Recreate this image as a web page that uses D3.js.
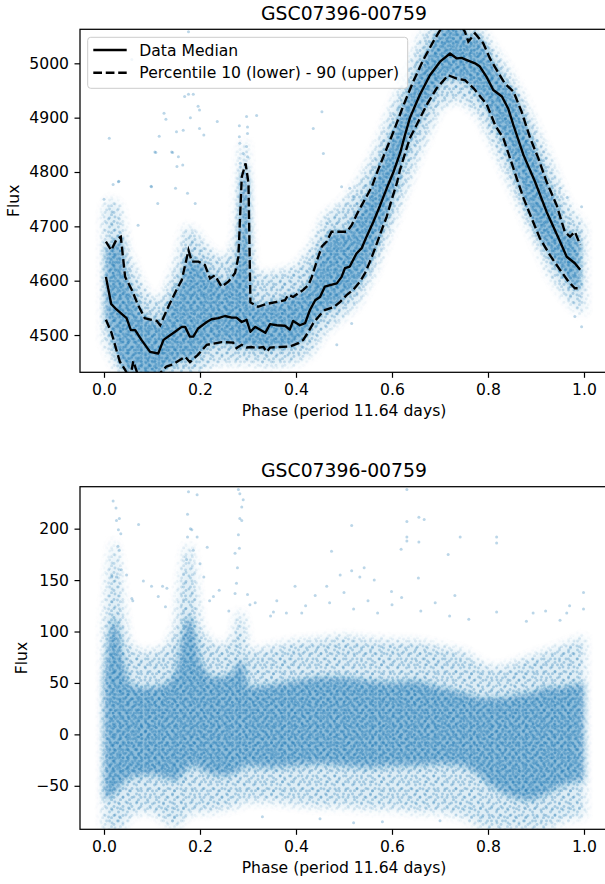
<!DOCTYPE html>
<html><head><meta charset="utf-8">
<script src="https://cdn.jsdelivr.net/npm/d3@7"></script>
<style>
html,body{margin:0;padding:0;background:#fff;}
text{font-family:"DejaVu Sans",sans-serif;fill:#000;}
</style></head>
<body><svg id="chart" width="605" height="884"></svg>
<script>
// ---------------- DATA ----------------
const chartTitle = "GSC07396-00759";
const xLabel = "Phase (period 11.64 days)";
const yLabel = "Flux";
const xTicks = [0, 0.2, 0.4, 0.6, 0.8, 1.0];
const topYTicks = [4500, 4600, 4700, 4800, 4900, 5000];
const botYTicks = [-50, 0, 50, 100, 150, 200];
const legendLabels = ["Data Median", "Percentile 10 (lower) - 90 (upper)"];

// median line
const medPhase = [0.004,0.015,0.026,0.047,0.056,0.065,0.078,0.096,0.113,0.124,0.148,0.162,0.169,0.179,0.186,0.196,0.214,0.224,0.238,0.252,0.266,0.276,0.287,0.297,0.305,0.315,0.321,0.336,0.346,0.36,0.377,0.387,0.394,0.408,0.419,0.429,0.44,0.45,0.46,0.471,0.485,0.495,0.502,0.512,0.526,0.537,0.547,0.561,0.575,0.589,0.603,0.617,0.627,0.6375,0.658,0.679,0.70,0.721,0.735,0.745,0.756,0.773,0.783,0.797,0.811,0.829,0.842,0.853,0.874,0.898,0.922,0.947,0.964,0.981,0.992];
const medFlux = [4607,4557,4547,4531,4509,4509,4491,4469,4466,4491,4506,4515,4515,4497,4497,4512,4524,4529,4531,4535,4532,4532,4524,4528,4506,4515,4512,4504,4520,4518,4517,4510,4526,4518,4522,4546,4564,4570,4589,4592,4595,4607,4623,4626,4650,4660,4681,4708,4738,4770,4800,4835,4868,4900,4942,4978,5003,5018,5009,5010,5006,5000,4994,4975,4951,4939,4917,4886,4831,4782,4727,4678,4644,4632,4620];

// 90th percentile (upper dashed)
const hiPhase = [0.004,0.015,0.026,0.035,0.044,0.058,0.071,0.085,0.099,0.11,0.117,0.134,0.151,0.162,0.176,0.183,0.197,0.21,0.221,0.231,0.245,0.259,0.273,0.28,0.287,0.295,0.301,0.305,0.321,0.338,0.36,0.377,0.384,0.394,0.405,0.415,0.426,0.433,0.444,0.454,0.464,0.474,0.488,0.506,0.516,0.526,0.537,0.547,0.558,0.571,0.582,0.603,0.624,0.644,0.665,0.686,0.703,0.72,0.74,0.752,0.759,0.773,0.79,0.804,0.818,0.835,0.853,0.87,0.888,0.905,0.922,0.943,0.96,0.971,0.981,0.992];
const hiFlux = [4672,4656,4676,4681,4607,4583,4555,4531,4528,4526,4518,4552,4583,4601,4656,4635,4635,4629,4604,4610,4589,4598,4614,4644,4791,4816,4779,4560,4552,4557,4561,4564,4574,4570,4577,4583,4592,4607,4638,4663,4672,4690,4690,4690,4702,4721,4739,4755,4773,4804,4828,4874,4923,4966,5006,5040,5065,5080,5075,5058,5040,5055,5037,5009,4988,4963,4948,4911,4862,4825,4782,4739,4690,4681,4690,4666];

// 10th percentile (lower dashed)
const loPhase = [0.004,0.016,0.026,0.033,0.044,0.054,0.061,0.075,0.10,0.117,0.13,0.144,0.158,0.169,0.179,0.195,0.214,0.245,0.269,0.276,0.287,0.297,0.307,0.318,0.332,0.339,0.346,0.367,0.3875,0.405,0.415,0.426,0.436,0.45,0.46,0.478,0.492,0.506,0.519,0.533,0.544,0.554,0.565,0.578,0.589,0.599,0.61,0.617,0.637,0.651,0.672,0.693,0.717,0.735,0.752,0.77,0.783,0.797,0.815,0.832,0.846,0.86,0.874,0.888,0.908,0.929,0.95,0.968,0.981,0.992];
const loFlux = [4528,4503,4472,4451,4436,4418,4452,4415,4410,4430,4442,4446,4454,4460,4450,4463,4482,4487,4486,4476,4482,4477,4478,4476,4478,4469,4477,4478,4479,4485,4491,4506,4522,4537,4546,4551,4561,4574,4583,4598,4614,4635,4660,4692,4718,4748,4779,4805,4862,4886,4923,4954,4978,4972,4969,4954,4940,4925,4886,4862,4825,4788,4752,4721,4678,4647,4620,4598,4586,4586];

// visible extent of the point cloud (top panel)
const cloudPhase = [0,0.01,0.03,0.05,0.08,0.1,0.12,0.15,0.17,0.19,0.21,0.24,0.26,0.275,0.285,0.295,0.302,0.31,0.33,0.36,0.4,0.43,0.46,0.5,0.53,0.56,0.6,0.63,0.66,0.7,0.74,0.78,0.81,0.84,0.87,0.9,0.93,0.96,0.98,1.0];
const cloudHi = [4725,4750,4740,4650,4590,4565,4565,4630,4700,4690,4665,4640,4645,4680,4840,4860,4720,4620,4610,4615,4625,4660,4720,4745,4780,4830,4920,4985,5050,5080,5080,5070,5030,4990,4940,4880,4820,4750,4720,4700];
const cloudLo = [4490,4470,4430,4415,4410,4410,4415,4420,4420,4425,4440,4450,4450,4448,4450,4450,4450,4450,4445,4445,4450,4465,4505,4535,4560,4610,4700,4770,4840,4920,4935,4905,4850,4790,4730,4670,4610,4570,4550,4540];

// isolated points (top panel)
const topOutPhase = [0.176,0.058,0.168,0.176,0.186,0.196,0.199,0.18,0.125,0.129,0.236,0.297,0.318,0.011,0.115,0.151,0.165,0.199,0.208,0.108,0.143,0.155,0.164,0.152,0.099,0.019,0.031,0.149,0.174,0.0,0.282,0.299,0.282,0.299,0.283,0.297,0.29,0.299,0.284,0.294,0.288,0.298,0.284,0.293,0.29,0.106,0.141,0.098,0.112,0.03,0.071,0.19,0.454,0.436,0.457,0.495,0.519,0.512,0.485,0.516,0.995,0.981,0.95,0.965,0.995];
const topOutFlux = [5058,5007,4939,4943,4943,4921,4914,4900,4908,4897,4893,4902,4904,4862,4866,4874,4877,4880,4868,4836,4836,4828,4813,4810,4773,4777,4783,4770,4761,4750,4885,4883,4865,4871,4853,4847,4834,4828,4816,4810,4798,4791,4779,4767,4755,4837,4837,4774,4742,4782,4702,4742,4911,4880,4834,4773,4755,4770,4482,4521,4515,4534,4770,4753,4736];

// residual panel: cloud envelopes
const resPhase = [0.0,0.01,0.02,0.03,0.04,0.05,0.07,0.1,0.13,0.15,0.16,0.17,0.18,0.19,0.2,0.22,0.25,0.27,0.28,0.29,0.3,0.35,0.4,0.45,0.5,0.55,0.6,0.65,0.7,0.75,0.78,0.8,0.83,0.86,0.89,0.92,0.95,0.98,1.0];
const resInnerLo = [-62,-62,-58,-52,-46,-42,-40,-38,-42,-45,-40,-35,-30,-30,-32,-38,-40,-38,-35,-30,-30,-32,-30,-28,-30,-32,-30,-30,-28,-30,-38,-48,-56,-62,-64,-58,-50,-45,-45];
const resInnerHi = [55,95,115,100,70,50,45,45,48,60,85,110,115,95,70,55,55,60,70,70,45,48,52,55,55,52,50,52,45,40,35,35,35,38,40,45,45,48,50];
const resOuterLo = [-92,-92,-92,-92,-90,-80,-75,-75,-85,-90,-85,-80,-75,-75,-75,-75,-72,-70,-70,-65,-65,-65,-68,-70,-70,-72,-72,-75,-75,-80,-88,-92,-92,-92,-92,-92,-85,-80,-80];
const resOuterHi = [100,160,190,170,120,90,80,80,85,105,150,180,185,150,105,90,85,95,120,115,80,85,90,92,95,92,90,90,85,80,70,65,65,70,75,80,85,90,95];

// isolated points (residual panel)
const botOutPhase = [0.019,0.025,0.026,0.032,0.03,0.035,0.029,0.032,0.036,0.026,0.016,0.072,0.058,0.047,0.176,0.194,0.174,0.18,0.183,0.174,0.194,0.186,0.215,0.172,0.2,0.208,0.228,0.28,0.283,0.29,0.287,0.283,0.287,0.28,0.282,0.273,0.278,0.276,0.273,0.299,0.304,0.315,0.099,0.122,0.131,0.398,0.353,0.347,0.631,0.631,0.631,0.631,0.656,0.667,0.656,0.516,0.474,0.619,0.742,0.818,0.818,0.717,0.999,0.999,0.516,0.542,0.492,0.412,0.464,0.599,0.731,0.655,0.563,0.533,0.818,0.894,0.964,0.95,0.36,0.38,0.42,0.44,0.47,0.50,0.52,0.55,0.57,0.60,0.62,0.66,0.69,0.72,0.76,0.88,0.92,0.97,0.06,0.082,0.113,0.128,0.22,0.24,0.26,0.33,0.45,0.58,0.7,0.52];
const botOutFlux = [227,220,208,210,199,195,183,179,160,153,153,204,132,155,236,233,214,200,199,192,192,179,182,170,166,153,134,238,234,228,221,210,208,194,181,176,162,147,137,136,126,128,144,144,142,144,119,115,238,207,192,188,211,209,187,203,178,180,192,192,186,175,138,122,159,162,155,118,144,139,135,152,150,153,119,118,118,111,130,118,125,135,128,138,122,130,118,126,133,120,128,115,112,110,120,125,130,149,134,124,130,140,120,-80,-82,-85,-84,-86];

// ---------------- DRAWING ----------------
const svg = d3.select("#chart");
const blue = "#1f77b4";
const FS = 15.6;
const defs = svg.append("defs");

function makePattern(id, w, h, pts, op) {
  const p = defs.append("pattern").attr("id", id).attr("width", w).attr("height", h)
    .attr("patternUnits", "userSpaceOnUse");
  pts.forEach(q => p.append("circle").attr("cx", q[0]).attr("cy", q[1]).attr("r", 1.45)
    .attr("fill", blue).attr("fill-opacity", op));
}
makePattern("dotsA", 9, 9, [[1.5,2],[6,5.5],[3.5,7.8]], 0.3);
makePattern("dotsB", 7, 11, [[2,1.5],[5.5,6],[1,9.2]], 0.36);
makePattern("dotsC", 13, 8, [[3,3],[9,1],[11.5,6.5],[6,6]], 0.36);
makePattern("dotsD", 11, 13, [[2,4],[7.5,2],[5,9],[9.5,11]], 0.3);
function makeBlur(id, sd) {
  defs.append("filter").attr("id", id).attr("filterUnits", "userSpaceOnUse")
    .attr("x", 0).attr("y", 0).attr("width", 605).attr("height", 884)
    .append("feGaussianBlur").attr("stdDeviation", sd);
}
makeBlur("blur3", 3); makeBlur("blur5", 5);

const x0 = 80, x1 = 608;
const x = d3.scaleLinear().domain([-0.05, 1.05]).range([x0, x1]);

function panel(cfg) {
  const y = d3.scaleLinear().domain(cfg.yDomain).range([cfg.bottom, cfg.top]);
  const clipId = cfg.id + "clip";
  defs.append("clipPath").attr("id", clipId).append("rect")
    .attr("x", x0).attr("y", cfg.top).attr("width", x1 - x0).attr("height", cfg.bottom - cfg.top);
  const g = svg.append("g").attr("clip-path", `url(#${clipId})`);
  cfg.draw(g, y, cfg);

  const ax = svg.append("g").attr("transform", `translate(0,${cfg.bottom})`)
    .call(d3.axisBottom(x).tickValues(xTicks).tickFormat(d3.format(".1f")).tickSize(5.5).tickSizeOuter(0).tickPadding(6));
  const ay = svg.append("g").attr("transform", `translate(${x0},0)`)
    .call(d3.axisLeft(y).tickValues(cfg.yTicks).tickFormat(d3.format("d")).tickSize(5.5).tickSizeOuter(0).tickPadding(5.5));
  [ax, ay].forEach(a => {
    a.select(".domain").remove();
    a.selectAll("line").attr("stroke", "#000").attr("stroke-width", 1.2);
    a.selectAll("text").style("font-family", "DejaVu Sans").style("font-size", FS + "px").attr("fill", "#000");
  });
  svg.append("rect").attr("x", x0).attr("y", cfg.top).attr("width", x1 - x0).attr("height", cfg.bottom - cfg.top)
    .attr("fill", "none").attr("stroke", "#000").attr("stroke-width", 1.25);

  svg.append("text").attr("x", (x0 + x1) / 2).attr("y", cfg.top - 9.5).attr("text-anchor", "middle")
    .style("font-size", "18.8px").text(chartTitle);
  svg.append("text").attr("x", (x0 + x1) / 2).attr("y", cfg.bottom + 43.5).attr("text-anchor", "middle")
    .style("font-size", FS + "px").text(xLabel);
  svg.append("text").attr("transform", `translate(${cfg.ylabX},${(cfg.top + cfg.bottom) / 2}) rotate(-90)`)
    .attr("text-anchor", "middle").style("font-size", FS + "px").text(yLabel);
}

let maskN = 0;
// closed region between an upper edge (phases/values) and a lower edge (phases/values)
function band(g, y, cfg, hiP, hiV, loP, loV, fillOp, blurFill, pats, blurMask) {
  const up = hiP.map((p, i) => [x(p), y(hiV[i])]);
  const dn = loP.map((p, i) => [x(p), y(loV[i])]).reverse();
  const d = d3.line().curve(d3.curveLinearClosed)(up.concat(dn));
  g.append("path").attr("d", d).attr("fill", blue).attr("fill-opacity", fillOp).attr("filter", `url(#${blurFill})`);
  const mid = "m" + (maskN++);
  defs.append("mask").attr("id", mid).attr("maskUnits", "userSpaceOnUse")
    .attr("x", 0).attr("y", 0).attr("width", 605).attr("height", 884)
    .append("path").attr("d", d).attr("fill", "#fff").attr("filter", `url(#${blurMask})`);
  pats.forEach(pid => g.append("rect").attr("x", x0).attr("y", cfg.top).attr("width", x1 - x0)
    .attr("height", cfg.bottom - cfg.top).attr("fill", `url(#${pid})`).attr("mask", `url(#${mid})`));
}

function points(g, y, ph, v) {
  g.selectAll(null).data(ph.map((p, i) => [p, v[i]])).join("circle")
    .attr("cx", d => x(d[0])).attr("cy", d => y(d[1])).attr("r", 1.5)
    .attr("fill", blue).attr("fill-opacity", 0.3);
}

// top panel
panel({
  id: "top", top: 29.3, bottom: 372.3, yDomain: [4431.4, 5062.6], yTicks: topYTicks, ylabX: 19,
  draw: (g, y, cfg) => {
    band(g, y, cfg, cloudPhase, cloudHi, cloudPhase, cloudLo, 0.13, "blur5", ["dotsA", "dotsD"], "blur5");
    band(g, y, cfg, hiPhase, hiFlux, loPhase, loFlux, 0.4, "blur3", ["dotsB", "dotsC"], "blur3");
    points(g, y, topOutPhase, topOutFlux);
    const line = d3.line().x(d => x(d[0])).y(d => y(d[1]));
    const lw = 2.35;
    g.append("path").datum(medPhase.map((p, i) => [p, medFlux[i]])).attr("d", line)
      .attr("fill", "none").attr("stroke", "#000").attr("stroke-width", lw).attr("stroke-linejoin", "round");
    [[hiPhase, hiFlux], [loPhase, loFlux]].forEach(([ph, v]) => {
      g.append("path").datum(ph.map((p, i) => [p, v[i]])).attr("d", line)
        .attr("fill", "none").attr("stroke", "#000").attr("stroke-width", lw)
        .attr("stroke-dasharray", "8.7,3.76");
    });
  }
});

// legend
const lg = svg.append("g");
lg.append("rect").attr("x", 87.7).attr("y", 37.3).attr("width", 320).attr("height", 51).attr("rx", 3)
  .attr("fill", "#fff").attr("fill-opacity", 0.8).attr("stroke", "#cccccc").attr("stroke-width", 1);
lg.append("line").attr("x1", 93.3).attr("x2", 126.7).attr("y1", 50).attr("y2", 50)
  .attr("stroke", "#000").attr("stroke-width", 2.35);
lg.append("line").attr("x1", 93.3).attr("x2", 126.7).attr("y1", 72.7).attr("y2", 72.7)
  .attr("stroke", "#000").attr("stroke-width", 2.35).attr("stroke-dasharray", "8.7,3.76");
lg.append("text").attr("x", 139.3).attr("y", 55.7).style("font-size", FS + "px").text(legendLabels[0]);
lg.append("text").attr("x", 139.3).attr("y", 78.4).style("font-size", FS + "px").text(legendLabels[1]);

// bottom panel
panel({
  id: "bot", top: 486.7, bottom: 829.3, yDomain: [-92.3, 240.8], yTicks: botYTicks, ylabX: 27,
  draw: (g, y, cfg) => {
    band(g, y, cfg, resPhase, resOuterHi, resPhase, resOuterLo, 0.13, "blur5", ["dotsA", "dotsD"], "blur5");
    band(g, y, cfg, resPhase, resInnerHi, resPhase, resInnerLo, 0.4, "blur3", ["dotsB", "dotsC"], "blur3");
    points(g, y, botOutPhase, botOutFlux);
  }
});
</script></body></html>
